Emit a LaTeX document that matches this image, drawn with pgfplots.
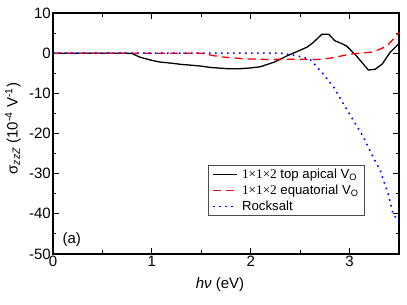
\documentclass[border=0pt]{standalone}
\usepackage{fontspec}
\setmainfont{Liberation Sans}
\newfontfamily\seriffont{Liberation Serif}
\usepackage{pgfplots}
\pgfplotsset{compat=1.18}
\begin{document}
\begin{tikzpicture}
\useasboundingbox (-53pt,-51pt) rectangle (354pt,254pt);
\begin{axis}[
 at={(0pt,0pt)}, anchor=south west,
 scale only axis, width=346pt, height=241pt,
 xmin=0, xmax=3.5, ymin=-50, ymax=10,
 xtick={0,1,2,3}, minor xtick={0.5,1.5,2.5},
 ytick={-50,-40,...,10}, minor ytick={-45,-35,...,5},
 tick align=inside, major tick length=6pt, minor tick length=3.5pt,
 axis line style={line width=1.3pt},
 every tick/.style={black, line width=1pt},
 tick label style={font=\fontsize{15}{16}\selectfont},
 xticklabel style={inner sep=2pt},
 yticklabel style={inner sep=2pt},
 /pgf/number format/assume math mode=true,
 label style={font=\fontsize{15}{17}\selectfont},
 xlabel={\textit{hν} (eV)},
 ylabel={σ\textsubscript{\itshape zzZ} (10\textsuperscript{-4} V\textsuperscript{-1})},
 xlabel style={at={(rel axis cs:0.5,0)}, anchor=center, yshift=-31pt, xshift=-6pt},
 ylabel style={at={(rel axis cs:0,0.52)}, anchor=center, yshift=40pt},
 legend style={at={(0.448,0.369)}, anchor=north west, draw=black!70, line width=0.6pt,
   font=\fontsize{13.2}{15}\selectfont, row sep=2pt, column sep=3pt,
   inner xsep=4pt, inner ysep=2pt, nodes={inner sep=1.5pt}},
 legend cell align=left,
 legend image code/.code={\draw[#1, line width=1.3pt] (0pt,0pt) -- (24pt,0pt);},
]
\addplot[black, line width=1.3pt] coordinates {
(0,0) (0.5,0) (0.75,0) (0.8,-0.1) (0.88,-1.0) (1.0,-1.8) (1.08,-2.2) (1.2,-2.5)
(1.3,-2.8) (1.4,-3.0) (1.49,-3.2) (1.59,-3.55) (1.7,-3.75) (1.79,-3.9) (1.9,-3.85)
(1.99,-3.7) (2.094,-3.4) (2.23,-2.3) (2.3,-1.5) (2.365,-0.7) (2.45,0.2) (2.50,0.74)
(2.57,1.5) (2.63,2.6) (2.72,4.7) (2.79,4.7) (2.85,3.1) (2.90,2.6) (2.97,1.8)
(3.07,-0.7) (3.19,-4.2) (3.26,-4.0) (3.33,-2.7) (3.41,0.2) (3.5,2.4)
};
\addlegendentry{{\seriffont 1×1×2} top apical V\textsubscript{O}}
\addplot[red, line width=1.3pt, dash pattern=on 8pt off 5pt] coordinates {
(0,0) (1.0,0) (1.5,0) (1.6,-0.5) (1.69,-0.9) (1.93,-1.4) (2.16,-1.57) (2.5,-1.5)
(2.7,-1.57) (2.84,-1.1) (3.0,-0.25) (3.24,0.3) (3.38,1.8) (3.5,5.1)
};
\addlegendentry{{\seriffont 1×1×2} equatorial V\textsubscript{O}}
\addplot[blue, line width=1.6pt, dash pattern=on 1.6pt off 4.4pt] coordinates {
(0,0) (2.0,0) (2.3,0) (2.365,-0.25) (2.47,-0.67) (2.60,-1.5) (2.72,-4.8) (2.84,-8.5)
(2.94,-12.7) (3.04,-16.8) (3.14,-20.9) (3.23,-25.5) (3.31,-29.2) (3.39,-35)
(3.44,-40) (3.5,-42)
};
\addlegendentry{Rocksalt}
\node[font=\fontsize{15}{16}\selectfont] at (axis cs:0.19,-46.3) {(a)};
\end{axis}
\end{tikzpicture}
\end{document}
